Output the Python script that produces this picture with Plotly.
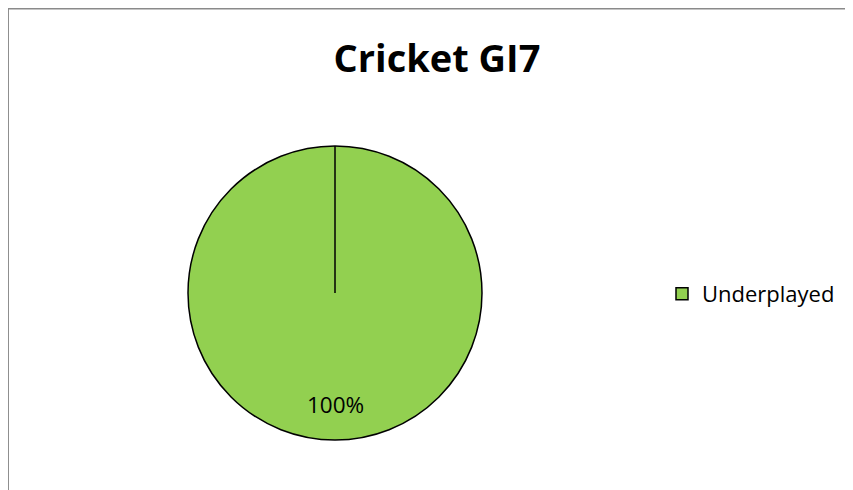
import plotly.graph_objects as go

W, H = 853, 490
OX, OY = 8, 8  # page body margin offset

labels = ["Underplayed"]
values = [100]
colors = ["#92D050"]
title = "Cricket GI7"

FONT = "Open Sans, Lato, sans-serif"

def px(x):
    return (x - OX) / W

def py(y):
    return 1 - (y - OY) / H

cx, cy, r = 335, 293, 147

fig = go.Figure()
fig.add_trace(go.Pie(
    labels=labels, values=values, sort=False, direction="clockwise", rotation=0,
    marker=dict(colors=colors, line=dict(color="black", width=1.5)),
    textinfo="none", hoverinfo="label+percent",
    domain=dict(x=[px(cx - r), px(cx + r)], y=[py(cy + r), py(cy - r)]),
))

total = sum(values)
annotations = [dict(
    x=px(cx), y=py(404), xref="paper", yref="paper", yanchor="middle",
    text=f"{100 * values[0] / total:.0f}%", showarrow=False,
    font=dict(family=FONT, size=22.5, color="black"),
)]

shapes = [
    dict(type="line", xref="paper", yref="paper", x0=px(cx), x1=px(cx), y0=py(cy), y1=py(cy - r),
         line=dict(color="black", width=1.5)),
    dict(type="line", xref="paper", yref="paper", x0=px(7.5), x1=px(7.5), y0=py(7.5), y1=py(600),
         line=dict(color="#8f8f8f", width=3)),
    dict(type="line", xref="paper", yref="paper", x0=px(6), x1=px(900), y0=py(8.5), y1=py(8.5),
         line=dict(color="#8a8a8a", width=2)),
]

fig.update_layout(
    width=W, height=H, margin=dict(l=0, r=0, t=0, b=0),
    paper_bgcolor="white", plot_bgcolor="white",
    title=dict(text=f"<b>{title}</b>", x=px(437), xanchor="center", y=py(59), yanchor="middle",
               font=dict(family=FONT, size=38, color="black")),
    legend=dict(x=px(662), xanchor="left", y=py(294), yanchor="middle",
                font=dict(family=FONT, size=22, color="black"),
                itemwidth=30, bgcolor="rgba(0,0,0,0)"),
    showlegend=True,
    annotations=annotations, shapes=shapes,
)

fig.write_html("out.html")
